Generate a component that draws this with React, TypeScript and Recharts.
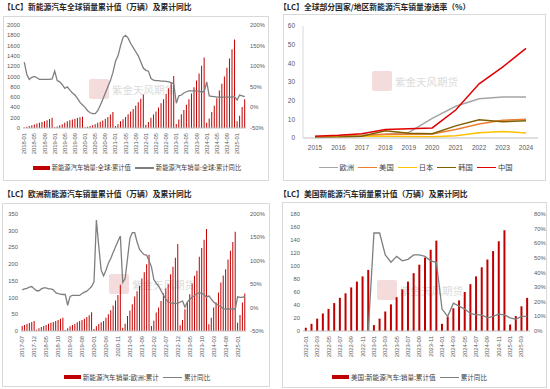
import React from "react";
import { Bar, ComposedChart, Line, LineChart, XAxis, YAxis } from "recharts";

const NUM_FONT = '"Liberation Sans", "Noto Sans CJK SC", sans-serif';
const CJK_FONT = '"Noto Sans CJK SC", "Liberation Sans", sans-serif';
const BAR_RED = "#C00000";
const LINE_GREY = "#7F7F7F";
const TICK_GREY = "#595959";

// month labels like 2018-01
function monthLabels(year: number, month: number, count: number): string[] {
  const out: string[] = [];
  for (let i = 0; i < count; i++) {
    const m = month - 1 + i;
    const y = year + Math.floor(m / 12);
    out.push(`${y}-${String((m % 12) + 1).padStart(2, "0")}`);
  }
  return out;
}

// ---- panel 1: global NEV sales, cumulative (万辆) + cumulative YoY (%)
const globalMonths = monthLabels(2018, 1, 88);
const globalCum = [
  10, 22, 38, 52, 68, 85, 100, 115, 132, 152, 175, 200,
  15, 30, 55, 75, 100, 130, 150, 165, 180, 195, 210, 220,
  15, 25, 40, 55, 75, 100, 120, 145, 180, 215, 260, 310,
  40, 75, 130, 170, 215, 265, 320, 370, 430, 500, 570, 650,
  65, 115, 200, 260, 320, 400, 480, 560, 660, 770, 880, 1010,
  80, 165, 265, 350, 450, 560, 670, 790, 920, 1060, 1210, 1370,
  100, 185, 310, 430, 580, 730, 860, 1000, 1170, 1350, 1530, 1720,
  130, 240, 410, 560,
];
const globalYoy = [
  110, 80, 68, 73, 75, 72, 68, 68, 68, 68, 68, 69,
  88, 65, 62, 55, 46, 50, 42, 35, 30, 22, 12, 6,
  0, -8, -13, -15, -15, -8, 5, 20, 35, 50, 65, 85,
  112, 125, 150, 170, 175, 168, 155, 145, 135, 125, 110, 95,
  90, 88, 70, 66, 65, 65, 64, 64, 63, 62, 60, 57,
  10, 28, 30, 35, 38, 40, 40, 40, 40, 39, 38, 38,
  62, 28, 27, 26, 25, 25, 25, 25, 25, 25, 25, 26,
  18, 30, 28, 26,
];
const globalLeftTicks = [0, 200, 400, 600, 800, 1000, 1200, 1400, 1600, 1800, 2000];
const globalRightTicks = [-50, 0, 50, 100, 150, 200];

// ---- panel 2: penetration rate by country (%)
const years = ["2015", "2016", "2017", "2018", "2019", "2020", "2021", "2022", "2023", "2024"];
const europeRate = [0.8, 1.0, 1.5, 2.0, 3.0, 10.5, 17, 21, 22, 22];
const usRate = [0.7, 0.9, 1.2, 2.0, 2.0, 2.2, 4.5, 7.5, 9.5, 10];
const japanRate = [0.5, 0.6, 1.0, 1.0, 0.8, 0.7, 1.2, 2.8, 3.5, 2.7];
const koreaRate = [0.3, 0.5, 1.0, 3.9, 2.5, 2.3, 6.5, 9.8, 8.7, 9.2];
const chinaRate = [1.0, 1.5, 2.3, 4.6, 5.0, 5.4, 15, 29, 38, 48];
const rateTicks = [0, 10, 20, 30, 40, 50, 60];
const rateSeries = [
  { key: "eu", name: "欧洲", color: "#A5A5A5" },
  { key: "us", name: "美国", color: "#ED7D31" },
  { key: "jp", name: "日本", color: "#FFC000" },
  { key: "kr", name: "韩国", color: "#7F6000" },
  { key: "cn", name: "中国", color: "#E00000" },
];

// ---- panel 3: Europe NEV sales, cumulative (万辆) + YoY
const europeMonths = monthLabels(2017, 7, 94);
const europeCum = [
  15, 18, 21, 24, 27, 30,
  4, 8, 12, 15, 18, 22, 25, 27, 30, 33, 37, 40,
  3, 8, 14, 18, 21, 26, 30, 33, 37, 42, 47, 56,
  6, 14, 21, 26, 30, 40, 50, 62, 76, 91, 108, 138,
  10, 22, 45, 61, 80, 103, 119, 135, 157, 176, 200, 228,
  15, 31, 55, 70, 90, 113, 127, 140, 170, 192, 219, 260,
  17, 33, 65, 86, 110, 142, 165, 180, 222, 248, 273, 305,
  20, 40, 70, 85, 115, 145, 166, 185, 214, 240, 266, 297,
  25, 48, 85, 112,
];
const europeYoy = [
  38, 40, 41, 44, 45, 40,
  36, 36, 40, 42, 42, 40, 40, 38, 32, 30, 29, 28,
  28, 5, 24, 26, 26, 26, 26, 30, 33, 35, 40, 45,
  55, 187, 130, 80, 68, 80, 95, 105, 118, 130, 142, 153,
  54, 62, 105, 148, 160, 160, 140, 125, 118, 113, 112, 100,
  87, 60, 52, 46, 36, 27, 18, 12, 10, 9, 9, 9,
  12, 14, 1, 12, 18, 22, 26, 30, 32, 30, 28, 22,
  25, 18, 12, 8, 5, 2, -2, -3, -3, -3, -3, -3,
  23, 22, 22, 24,
];
const europeLeftTicks = [0, 50, 100, 150, 200, 250, 300, 350];
const europeRightTicks = [-50, 0, 50, 100, 150, 200];

// ---- panel 4: US NEV sales, cumulative (万辆) + YoY
const usMonths = monthLabels(2022, 1, 40);
const usCum = [
  5, 11, 19, 27, 34, 43, 51, 58, 67, 76, 84, 94,
  9, 19, 30, 41, 52, 64, 76, 89, 102, 113, 125, 139,
  11, 22, 35, 47, 60, 72, 84, 98, 110, 123, 138, 155,
  10, 23, 38, 51,
];
const usYoy: (number | null)[] = [
  null, null, null, null, null, null, null, null, null, null, null, 0,
  67, 67, 52, 47, 51, 48, 49, 52, 52, 51, 48, 47,
  15, 10, 19, 17, 15, 12, 11, 11, 9, 10, 11.5, 11,
  9, 8, 10, 10,
];
const usLeftTicks = [0, 20, 40, 60, 80, 100, 120, 140, 160, 180];
const usRightTicks = [0, 10, 20, 30, 40, 50, 60, 70, 80];

const globalRows = globalMonths.map((m, i) => ({ m, v: globalCum[i], r: globalYoy[i] }));
const europeRows = europeMonths.map((m, i) => ({ m, v: europeCum[i], r: europeYoy[i] }));
const usRows = usMonths.map((m, i) => ({ m, v: usCum[i], r: usYoy[i] }));
const rateRows = years.map((y, i) => ({
  y,
  eu: europeRate[i],
  us: usRate[i],
  jp: japanRate[i],
  kr: koreaRate[i],
  cn: chinaRate[i],
}));

const pct = (v: number) => `${v}%`;

function RotatedTick(props: any) {
  const { x, y, payload } = props;
  const ty = y + 3;
  return (
    <text
      x={x}
      y={ty}
      transform={`rotate(-90 ${x} ${ty})`}
      textAnchor="end"
      dominantBaseline="central"
      fontSize={5.8}
      fontFamily={NUM_FONT}
      fill={TICK_GREY}
    >
      {payload.value}
    </text>
  );
}

interface LegendItem {
  label: string;
  kind: "rect" | "line";
  color: string;
}

function LegendRow({ items, left, width, top, fontSize }: { items: LegendItem[]; left: number; width: number; top: number; fontSize: number }) {
  return (
    <div
      style={{
        position: "absolute",
        left,
        top,
        width,
        display: "flex",
        justifyContent: "center",
        alignItems: "center",
        gap: 4,
        fontSize,
        fontFamily: CJK_FONT,
        color: "#404040",
        whiteSpace: "nowrap",
        lineHeight: 1,
      }}
    >
      {items.map((it) => (
        <span key={it.label} style={{ display: "flex", alignItems: "center", gap: 2 }}>
          {it.kind === "rect" ? (
            <span style={{ display: "inline-block", width: 17, height: 4, background: it.color }} />
          ) : (
            <span style={{ display: "inline-block", width: 19, height: 1.5, background: it.color }} />
          )}
          <span>{it.label}</span>
        </span>
      ))}
    </div>
  );
}

function Watermark({ left, top }: { left: number; top: number }) {
  return (
    <div style={{ position: "absolute", left, top, display: "flex", alignItems: "center", gap: 3, opacity: 0.45, pointerEvents: "none" }}>
      <div style={{ width: 20, height: 20, background: "#e7b3b3", borderRadius: 2 }} />
      <div style={{ fontFamily: CJK_FONT, fontSize: 10.5, color: "#b0b0b0" }}>紫金天风期货</div>
    </div>
  );
}

function Title({ left, top, text }: { left: number; top: number; text: string }) {
  return (
    <div
      style={{
        position: "absolute",
        left,
        top,
        fontFamily: CJK_FONT,
        fontSize: 7.8,
        fontWeight: 700,
        color: "#262626",
        whiteSpace: "nowrap",
        lineHeight: 1,
      }}
    >
      {text}
    </div>
  );
}

function Box({ left, top, width, height, children }: { left: number; top: number; width: number; height: number; children: React.ReactNode }) {
  return (
    <div
      style={{
        position: "absolute",
        left,
        top,
        width,
        height,
        border: "1px solid #D9D9D9",
        boxSizing: "border-box",
        background: "#fff",
      }}
    >
      {children}
    </div>
  );
}

const yTick = { fontSize: 5.8, fill: TICK_GREY, fontFamily: NUM_FONT };

function ComboChart({
  rows,
  width,
  height,
  top,
  leftW,
  rightW,
  xH,
  interval,
  leftTicks,
  rightTicks,
  barGap,
}: {
  rows: any[];
  width: number;
  height: number;
  top: number;
  leftW: number;
  rightW: number;
  xH: number;
  interval: number;
  leftTicks: number[];
  rightTicks: number[];
  barGap: string;
}) {
  return (
    <ComposedChart
      width={width}
      height={height}
      data={rows}
      margin={{ top, right: 0, bottom: 0, left: 0 }}
      barCategoryGap={barGap}
    >
      <XAxis
        dataKey="m"
        interval={interval}
        height={xH}
        tick={<RotatedTick />}
        tickLine={false}
        tickSize={0}
        axisLine={{ stroke: "#BFBFBF" }}
      />
      <YAxis
        yAxisId="l"
        width={leftW}
        domain={[leftTicks[0], leftTicks[leftTicks.length - 1]]}
        ticks={leftTicks}
        interval={0}
        tick={yTick}
        tickLine={false}
        axisLine={false}
        tickSize={2}
        tickMargin={1}
      />
      <YAxis
        yAxisId="r"
        orientation="right"
        width={rightW}
        domain={[rightTicks[0], rightTicks[rightTicks.length - 1]]}
        ticks={rightTicks}
        interval={0}
        tickFormatter={pct}
        tick={{ ...yTick, textAnchor: "start" }}
        tickLine={false}
        axisLine={false}
        tickSize={2}
        tickMargin={2}
      />
      <Bar yAxisId="l" dataKey="v" fill={BAR_RED} isAnimationActive={false} />
      <Line
        yAxisId="r"
        dataKey="r"
        type="linear"
        stroke={LINE_GREY}
        strokeWidth={1.3}
        dot={false}
        connectNulls={false}
        isAnimationActive={false}
      />
    </ComposedChart>
  );
}

export default function App() {
  return (
    <div style={{ position: "absolute", left: 0, top: 0, width: 550, height: 389, background: "#fff", overflow: "hidden" }}>
      {/* top-left: global */}
      <Title left={3} top={3} text="【LC】新能源汽车全球销量累计值（万辆）及累计同比" />
      <Box left={3} top={16} width={266} height={165}>
        <Watermark left={85} top={62} />
        <div style={{ position: "absolute", left: -1, top: -1 }}>
          <ComboChart
            rows={globalRows}
            width={266}
            height={165}
            top={9}
            leftW={20}
            rightW={23}
            xH={53}
            interval={3}
            leftTicks={globalLeftTicks}
            rightTicks={globalRightTicks}
            barGap="28%"
          />
        </div>
        <LegendRow
          left={0}
          width={266}
          top={148}
          fontSize={6.3}
          items={[
            { label: "新能源汽车销量:全球:累计值", kind: "rect", color: BAR_RED },
            { label: "新能源汽车销量:全球:累计同比", kind: "line", color: LINE_GREY },
          ]}
        />
      </Box>

      {/* top-right: penetration */}
      <Title left={279} top={3} text="【LC】全球部分国家/地区新能源汽车销量渗透率（%）" />
      <Box left={283} top={14} width={263} height={167}>
        <Watermark left={88} top={56} />
        <div style={{ position: "absolute", left: -1, top: -1 }}>
          <LineChart width={263} height={167} data={rateRows} margin={{ top: 12, right: 8, bottom: 23, left: 0 }}>
            <XAxis
              dataKey="y"
              interval={0}
              height={20}
              padding={{ left: 12, right: 12 }}
              tick={{ fontSize: 6.5, fill: TICK_GREY, fontFamily: NUM_FONT }}
              tickLine={false}
              tickSize={0}
              tickMargin={7}
              axisLine={{ stroke: "#BFBFBF" }}
            />
            <YAxis
              width={20}
              domain={[0, 60]}
              ticks={rateTicks}
              interval={0}
              tick={{ fontSize: 6.5, fill: TICK_GREY, fontFamily: NUM_FONT }}
              tickLine={false}
              axisLine={{ stroke: "#D9D9D9" }}
              tickSize={2}
              tickMargin={6}
            />
            {rateSeries.map((s) => (
              <Line
                key={s.key}
                dataKey={s.key}
                type="linear"
                stroke={s.color}
                strokeWidth={1.5}
                dot={false}
                isAnimationActive={false}
              />
            ))}
          </LineChart>
        </div>
        <LegendRow
          left={0}
          width={263}
          top={149}
          fontSize={7.3}
          items={rateSeries.map((s) => ({ label: s.name, kind: "line" as const, color: s.color }))}
        />
      </Box>

      {/* bottom-left: Europe */}
      <Title left={3} top={190} text="【LC】欧洲新能源汽车销量累计值（万辆）及累计同比" />
      <Box left={2} top={203} width={268} height={184}>
        <Watermark left={106} top={70} />
        <div style={{ position: "absolute", left: -1, top: -1 }}>
          <ComboChart
            rows={europeRows}
            width={268}
            height={184}
            top={11}
            leftW={19}
            rightW={24}
            xH={56}
            interval={4}
            leftTicks={europeLeftTicks}
            rightTicks={europeRightTicks}
            barGap="28%"
          />
        </div>
        <LegendRow
          left={0}
          width={268}
          top={170}
          fontSize={6.6}
          items={[
            { label: "新能源汽车销量:欧洲:累计", kind: "rect", color: BAR_RED },
            { label: "累计同比", kind: "line", color: LINE_GREY },
          ]}
        />
      </Box>

      {/* bottom-right: US */}
      <Title left={279} top={190} text="【LC】美国新能源汽车销量累计值（万辆）及累计同比" />
      <Box left={282} top={202} width={265} height={186}>
        <Watermark left={94} top={77} />
        <div style={{ position: "absolute", left: -1, top: -1 }}>
          <ComboChart
            rows={usRows}
            width={265}
            height={186}
            top={12}
            leftW={21}
            rightW={17}
            xH={57}
            interval={1}
            leftTicks={usLeftTicks}
            rightTicks={usRightTicks}
            barGap="32%"
          />
        </div>
        <LegendRow
          left={-6}
          width={265}
          top={171}
          fontSize={6.6}
          items={[
            { label: "美国:新能源汽车:销量:累计值", kind: "rect", color: BAR_RED },
            { label: "累计同比", kind: "line", color: LINE_GREY },
          ]}
        />
      </Box>
    </div>
  );
}
